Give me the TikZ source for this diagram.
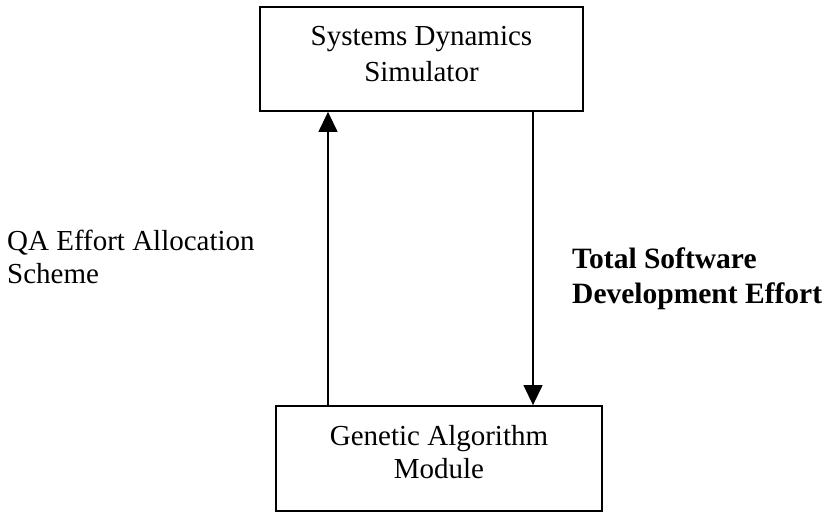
\documentclass[tikz,border=0pt]{standalone}
\usepackage{fontspec}
\setmainfont{Liberation Serif}
\usetikzlibrary{arrows.meta}
\begin{document}
\begin{tikzpicture}[x=1bp,y=-1bp,
  box/.style={draw=black,line width=1.8bp,minimum width=#1,inner sep=0pt},
  boxtext/.style={align=center,inner sep=0pt,font=\fontsize{29bp}{33bp}\selectfont},
  sidetext/.style={align=left,inner sep=0pt,anchor=west,font=\fontsize{29bp}{33bp}\selectfont},
  flow/.style={draw=black,line width=1.3bp,-{Triangle[length=20bp,width=19bp]}}]
  \useasboundingbox (0,0) rectangle (832,512);
  % the two blocks
  \node[box=323bp,minimum height=104bp] (sds) at (421.5,59) {};
  \node[boxtext,font=\fontsize{29bp}{36bp}\selectfont] (sdsT) at (421.5,54) {Systems Dynamics\\Simulator};
  \node[box=326bp,minimum height=105bp] (gam) at (439,458.5) {};
  \node[boxtext] (gamT) at (439,452.5) {Genetic Algorithm\\Module};
  % connectors
  \coordinate (xl) at (328,0);
  \coordinate (xr) at (533,0);
  \draw[flow] (xl |- gam.north) -- (xl |- sds.south);
  \draw[flow] (xr |- sds.south) -- (xr |- gam.north);
  % labels
  \node[sidetext] (qa) at (7,257) {QA Effort Allocation\\Scheme};
  \node[sidetext,font=\fontsize{29.5bp}{35bp}\selectfont\bfseries] (tsd) at (572,279) {Total Software\\Development Effort};
\end{tikzpicture}
\end{document}
